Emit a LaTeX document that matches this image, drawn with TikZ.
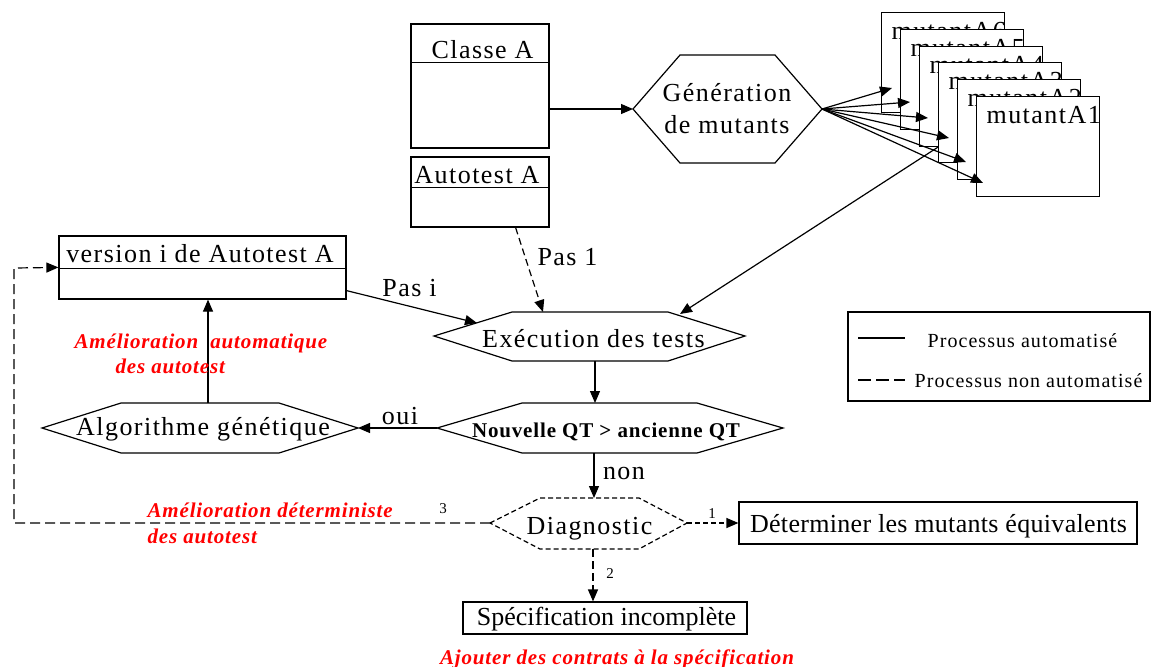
\documentclass[tikz,border=0pt]{standalone}
\usepackage{fontspec}
\setmainfont{Liberation Serif}
\newfontfamily\tfam[LetterSpace=5.6]{Liberation Serif}
\newfontfamily\pfam[LetterSpace=1.2]{Liberation Serif}
\newfontfamily\rfam[LetterSpace=4]{Liberation Serif}
\newfontfamily\lfam[LetterSpace=5.3]{Liberation Serif}
\usetikzlibrary{arrows.meta,calc}
\tikzset{
  txt/.style={font=\tfam\fontsize{13}{15}\selectfont, inner sep=0pt, anchor=base},
  ptxt/.style={font=\pfam\fontsize{13}{15}\selectfont, inner sep=0pt, anchor=base},
  redlab/.style={font=\rfam\fontsize{10.5}{12.5}\selectfont\bfseries\itshape, text=red, inner sep=0pt, anchor=base west},
  small/.style={font=\fontsize{7.5}{9}\selectfont, inner sep=0pt, anchor=base},
  boxx/.style={draw, fill=white, inner sep=0pt},
  arr/.style={-{Triangle[length=6pt,width=5pt]}},
  fdsh/.style={dash pattern=on 2.5pt off 1.5pt},
}
\begin{document}
\begin{tikzpicture}[x=0.5pt,y=-0.5pt,line width=0.6pt]
\useasboundingbox (0,0) rectangle (1157,666);

% Classe A
\node[boxx, minimum width=69pt, minimum height=62pt] (classe) at (480,86) {};
\draw ($(classe.north west)+(0,39)$) -- ($(classe.north east)+(0,39)$);
\node[txt] (classeT) at (482.5,58) {Classe A};

% Autotest A
\node[boxx, minimum width=69pt, minimum height=35pt] (auto) at (480,192) {};
\draw ($(auto.north west)+(0,31)$) -- ($(auto.north east)+(0,31)$);
\node[txt] (autoT) at (477,183) {Autotest A};

% version i de Autotest A
\node[boxx, minimum width=143.5pt, minimum height=31.5pt] (vers) at (202.5,267.5) {};
\draw ($(vers.north west)+(0,33)$) -- ($(vers.north east)+(0,33)$);
\node[txt] (versT) at (200,262) {version i de Autotest A};
\coordinate (vers-in) at ($(vers.north west)+(0,32)$);

% Generation hexagon
\coordinate (gen-w) at (633,109);
\coordinate (gen-e) at (822,109);
\draw[fill=white] (gen-w) -- (680,55) -- (775,55) -- (gen-e) -- (775,163) -- (680,163) -- cycle;
\node[txt] (gen1) at (727,101) {Génération};
\node[txt] (gen2) at (727,133) {de mutants};

% Mutants
\foreach \i/\x/\y in {6/881/12,5/900/29,4/919/46,3/938/62,2/957/79,1/976/96} {
  \node[boxx, anchor=north west, minimum width=61.5pt, minimum height=50pt] (m\i) at (\x,\y) {};
  \node[txt, anchor=base west] (mT\i) at (\x+10,\y+27) {mutantA\i};
}
\foreach \i/\dx/\dy in {6/11/76,5/10/73,4/9/72,3/11/76,2/9/83,1/7/87}
  \draw[arr] (gen-e) -- ($(m\i.north west)+(\dx,\dy)$);

\draw[arr] (classe.east |- gen-w) -- (gen-w);

% Execution hexagon
\coordinate (ex-w) at (434,336);
\coordinate (ex-e) at (745,336);
\draw (ex-w) -- (512,312) -- (668,312) -- (ex-e) -- (668,361) -- (512,361) -- cycle;
\node[txt] (ex) at (593.5,347) {Exécution des tests};
\coordinate (ex-s) at (595,361);
\coordinate (ex-n1) at (543,312);
\coordinate (ex-ne) at (680,314);
\coordinate (ex-nw) at (477,323);

% Nouvelle QT hexagon
\coordinate (nq-w) at (437,428);
\coordinate (nq-e) at (783,428);
\draw (nq-w) -- (522,403) -- (697,403) -- (nq-e) -- (697,453) -- (522,453) -- cycle;
\node[txt, font=\rfam\fontsize{10.5}{12.5}\selectfont\bfseries] (nq) at (606,437) {Nouvelle QT > ancienne QT};
\coordinate (nq-n) at (595,403);
\coordinate (nq-s) at (594,453);

% Algorithme genetique hexagon
\coordinate (al-w) at (42,428);
\coordinate (al-e) at (358,428);
\draw (al-w) -- (121,403) -- (279,403) -- (al-e) -- (279,453) -- (121,453) -- cycle;
\node[txt] (al) at (203,435) {Algorithme génétique};
\coordinate (al-n) at (208,403);

% Diagnostic hexagon
\coordinate (dg-w) at (490,523);
\coordinate (dg-e) at (687,523);
\draw[fdsh] (dg-w) -- (540,498) -- (639,498) -- (dg-e) -- (639,549) -- (540,549) -- cycle;
\node[txt] (dg) at (589.5,534) {Diagnostic};
\coordinate (dg-n) at (594,498);
\coordinate (dg-s) at (593,549);

% Determiner box
\node[boxx, minimum width=199pt, minimum height=21pt] (det) at (938,523) {};
\node[ptxt] (detT) at (938.5,532) {Déterminer les mutants équivalents};

% Specification box
\node[boxx, minimum width=142pt, minimum height=16pt] (spec) at (605,618) {};
\node[ptxt, font=\rmfamily\fontsize{13}{15}\selectfont] (specT) at (606.5,625) {Spécification incomplète};

% Legend
\node[draw, minimum width=151pt, minimum height=44.5pt, inner sep=0pt] (leg) at (999,356.5) {};
\coordinate (lg1a) at (858,338); \coordinate (lg1b) at (905,338);
\coordinate (lg2a) at (858,380); \coordinate (lg2b) at (905,380);
\draw[line width=1.4pt] (lg1a) -- (lg1b);
\draw[line width=1.4pt, dash pattern=on 6.5pt off 2.5pt] (lg2a) -- (lg2b);
\node[font=\lfam\fontsize{10}{12}\selectfont, inner sep=0pt, anchor=base west] (lgT1) at (927,347) {Processus automatisé};
\node[font=\lfam\fontsize{10}{12}\selectfont, inner sep=0pt, anchor=base west] (lgT2) at (914,387) {Processus non automatisé};

% Connectors
\draw[arr] ($(m3.west)+(0,34.5)$) -- (ex-ne);
\draw[arr, dash pattern=on 3.5pt off 2pt] ($(auto.south east)+(-34,0)$) -- (ex-n1);
\node[txt] (pas1) at (567.5,265) {Pas 1};
\draw[arr] ($(vers.south east)+(0,-9)$) -- (ex-nw);
\node[txt] (pasi) at (409.5,296) {Pas i};
\draw[arr] (ex-s) -- (nq-n);
\draw[arr] (nq-w) -- (al-e);
\node[txt] (oui) at (400,424) {oui};
\draw[arr] (al-n) -- (al-n |- vers.south);
\draw[arr] (nq-s) -- (dg-n);
\node[txt] (non) at (624,479) {non};
\draw[arr, fdsh] (dg-e) -- (det.west);
\node[small] (n1) at (712,518) {1};
\draw[arr, dash pattern=on 4pt off 2pt] (dg-s) -- (dg-s |- spec.north);
\node[small] (n2) at (610,578) {2};
\draw[arr, dash pattern=on 5pt off 2.5pt] (dg-w) -- (14,523) -- (14,268) -- (vers-in);
\node[small] (n3) at (443,513) {3};

% Red labels
\node[redlab] (r1) at (74,348) {Amélioration \ automatique};
\node[redlab] (r2) at (115,373) {des autotest};
\node[redlab] (r3) at (147,517) {Amélioration déterministe};
\node[redlab] (r4) at (147,543) {des autotest};
\node[redlab, anchor=base] (r5) at (617,664) {Ajouter des contrats à la spécification};
\end{tikzpicture}
\end{document}
